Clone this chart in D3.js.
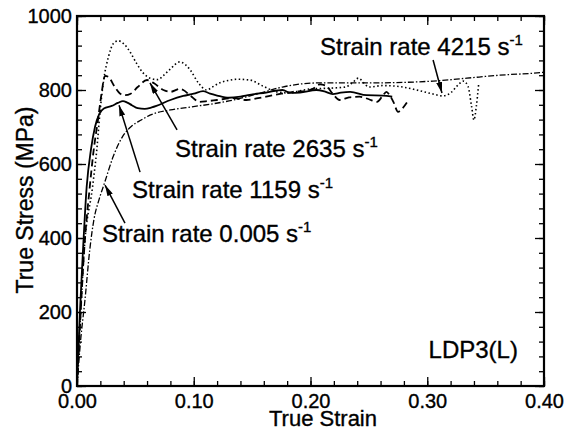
<!DOCTYPE html>
<html>
<head>
<meta charset="utf-8">
<script src="https://cdn.jsdelivr.net/npm/d3@7"></script>
<style>
  body { margin: 0; background: #fff; }
  text { font-family: "Liberation Sans", Arial, Helvetica, sans-serif; fill: #000; stroke: #000; stroke-width: 0.35px; }
</style>
</head>
<body>
<svg id="chart" width="565" height="433"></svg>
<script>
// curves: [true strain, true stress (MPa)]
const rate0005 = [[0,0],[0.003,120],[0.0068,232],[0.011,370],[0.0145,450],[0.019,505],[0.0235,548],
  [0.031,620],[0.039,674],[0.046,700],[0.055,719],[0.0625,732],[0.08,746],[0.097,754],[0.115,762],
  [0.134,773],[0.155,790],[0.176,808],[0.191,816],[0.205,819],[0.248,819],[0.305,824],[0.334,832],
  [0.362,840],[0.397,847],[0.4,848]];
const rate1159 = [[0,0],[0.0025,200],[0.005,359],[0.0083,539],[0.012,640],[0.0154,700],[0.019,735],
  [0.023,750],[0.0297,757],[0.035,765],[0.0394,770],[0.043,766],[0.047,759],[0.052,751],[0.058,749],
  [0.064,753],[0.068,757],[0.08,773],[0.091,784],[0.1,790],[0.108,797],[0.114,790],[0.12,785],
  [0.13,779],[0.14,782],[0.148,787],[0.162,793],[0.176,800],[0.183,792],[0.191,793],[0.205,800],
  [0.212,796],[0.219,789],[0.226,793],[0.234,795],[0.248,786],[0.262,785],[0.27,782]];
const rate2635 = [[0,0],[0.003,190],[0.006,360],[0.011,540],[0.014,630],[0.018,720],[0.021,790],
  [0.024,838],[0.027,835],[0.032,810],[0.037,790],[0.041,786],[0.046,790],[0.052,808],[0.06,827],
  [0.066,818],[0.074,800],[0.08,795],[0.088,803],[0.091,800],[0.097,785],[0.105,768],[0.112,770],
  [0.12,773],[0.134,778],[0.145,773],[0.155,778],[0.162,782],[0.175,790],[0.185,795],[0.197,798],
  [0.202,803],[0.208,815],[0.213,812],[0.219,790],[0.225,773],[0.233,780],[0.242,782],[0.25,775],
  [0.257,768],[0.262,785],[0.265,795],[0.268,785],[0.271,768],[0.275,741],[0.279,751],[0.283,768]];
const rate4215 = [[0,0],[0.003,190],[0.006,360],[0.0134,540],[0.017,640],[0.0197,740],[0.023,830],
  [0.027,890],[0.031,925],[0.0354,933],[0.04,925],[0.046,900],[0.051,872],[0.057,845],[0.0625,832],
  [0.069,828],[0.075,842],[0.08,857],[0.088,876],[0.093,868],[0.097,854],[0.104,819],[0.111,800],
  [0.116,808],[0.122,819],[0.13,826],[0.137,829],[0.148,827],[0.159,811],[0.171,795],[0.182,792],
  [0.191,798],[0.2,803],[0.217,805],[0.23,808],[0.236,820],[0.241,832],[0.246,818],[0.25,808],
  [0.262,812],[0.277,809],[0.291,800],[0.305,789],[0.313,784],[0.32,792],[0.325,809],[0.331,824],
  [0.335,809],[0.338,755],[0.34,719],[0.342,755],[0.344,815]];

const xMajor = [0, 0.1, 0.2, 0.3, 0.4];
const xLabels = ["0.00", "0.10", "0.20", "0.30", "0.40"];
const yMajor = [0, 200, 400, 600, 800, 1000];
const yLabels = ["0", "200", "400", "600", "800", "1000"];

// annotation: label, text anchor [strain, stress], arrow tail, arrow tip
const notes = [
  {rate: "4215", at: [0.2081, 895], from: [0.305, 881], to: [0.3126, 792]},
  {rate: "2635", at: [0.0839, 619], from: [0.0857, 692], to: [0.0625, 819]},
  {rate: "1159", at: [0.0471, 508], from: [0.054, 578], to: [0.036, 759]},
  {rate: "0.005", at: [0.0214, 389], from: [0.0411, 440], to: [0.024, 543]}
];

const svg = d3.select("#chart");
const x = d3.scaleLinear().domain([0, 0.4]).range([77, 544]);
const y = d3.scaleLinear().domain([0, 1000]).range([386, 16]);

const defs = svg.append("defs");
defs.append("marker").attr("id", "head")
  .attr("viewBox", "0 0 11 6").attr("refX", 11).attr("refY", 3)
  .attr("markerWidth", 11).attr("markerHeight", 6)
  .attr("markerUnits", "userSpaceOnUse").attr("orient", "auto")
  .append("path").attr("d", "M0,0L11,3L0,6Z").attr("fill", "#000");

// minor ticks first, then majors with labels
const xMinor = d3.range(0, 0.4001, 0.02);
const yMinor = d3.range(0, 1001, 40);

svg.append("g").attr("transform", "translate(0,386)")
  .call(d3.axisBottom(x).tickValues(xMinor).tickSize(-5).tickFormat(""));
svg.append("g").attr("transform", "translate(0,386)")
  .call(d3.axisBottom(x).tickValues(xMajor).tickSize(-9).tickPadding(8)
    .tickFormat((d, i) => xLabels[i]))
  .selectAll("text").style("font-size", "20px");
svg.append("g").attr("transform", "translate(0,16)")
  .call(d3.axisTop(x).tickValues(xMinor).tickSize(-5).tickFormat(""));
svg.append("g").attr("transform", "translate(0,16)")
  .call(d3.axisTop(x).tickValues(xMajor).tickSize(-9).tickFormat(""));

svg.append("g").attr("transform", "translate(77,0)")
  .call(d3.axisLeft(y).tickValues(yMinor).tickSize(-5).tickFormat(""));
svg.append("g").attr("transform", "translate(77,0)")
  .call(d3.axisLeft(y).tickValues(yMajor).tickSize(-9).tickPadding(5)
    .tickFormat((d, i) => yLabels[i]))
  .selectAll("text").style("font-size", "20px").attr("dy", "0.3em");
svg.append("g").attr("transform", "translate(544,0)")
  .call(d3.axisRight(y).tickValues(yMinor).tickSize(-5).tickFormat(""));
svg.append("g").attr("transform", "translate(544,0)")
  .call(d3.axisRight(y).tickValues(yMajor).tickSize(-9).tickFormat(""));

svg.selectAll(".domain").remove();
svg.selectAll(".tick line").attr("stroke", "#000").attr("stroke-width", 1.3);

svg.append("rect").attr("x", x(0)).attr("y", y(1000))
  .attr("width", x(0.4) - x(0)).attr("height", y(0) - y(1000))
  .attr("fill", "none").attr("stroke", "#000").attr("stroke-width", 2.2);

const line = d3.line().x(d => x(d[0])).y(d => y(d[1])).curve(d3.curveMonotoneX);

const series = [
  {data: rate0005, width: 1.3, dash: "6,2,1.5,2"},
  {data: rate1159, width: 1.8, dash: null},
  {data: rate2635, width: 1.8, dash: "7,4"},
  {data: rate4215, width: 1.6, dash: "1.5,2.5"}
];
svg.append("g").selectAll("path").data(series).enter().append("path")
  .attr("d", d => line(d.data))
  .attr("fill", "none").attr("stroke", "#000")
  .attr("stroke-width", d => d.width)
  .attr("stroke-dasharray", d => d.dash);

// annotations
const ann = svg.append("g");
notes.forEach(n => {
  ann.append("line")
    .attr("x1", x(n.from[0])).attr("y1", y(n.from[1]))
    .attr("x2", x(n.to[0])).attr("y2", y(n.to[1]))
    .attr("stroke", "#000").attr("stroke-width", 1.5)
    .attr("marker-end", "url(#head)");
  const t = ann.append("text").attr("x", x(n.at[0])).attr("y", y(n.at[1]))
    .style("font-size", "24px");
  t.append("tspan").text("Strain rate " + n.rate + " s");
  t.append("tspan").attr("dy", -10).style("font-size", "15px").text("-1");
});

ann.append("text").attr("x", x(0.3777)).attr("y", y(76))
  .attr("text-anchor", "end").style("font-size", "24px").text("LDP3(L)");

svg.append("text").attr("x", 323).attr("y", 426).attr("text-anchor", "middle")
  .style("font-size", "22px").text("True Strain");
svg.append("text").attr("transform", "translate(33,200) rotate(-90)")
  .attr("text-anchor", "middle").style("font-size", "23px").text("True Stress (MPa)");
</script>
</body>
</html>
